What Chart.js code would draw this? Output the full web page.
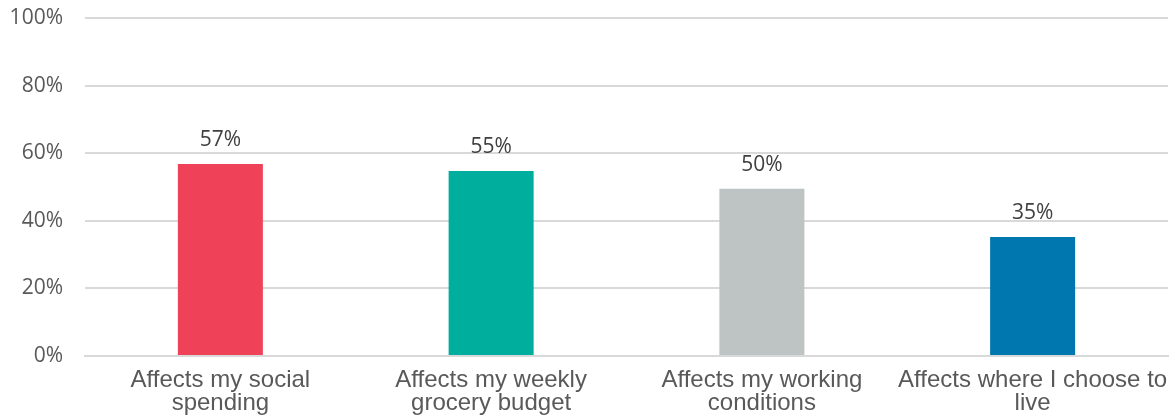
<!DOCTYPE html>
<html>
<head>
<meta charset="utf-8">
<script src="https://cdn.jsdelivr.net/npm/chart.js@4/dist/chart.umd.min.js"></script>
<style>
	html, body { margin: 0; padding: 0; background: #ffffff; }
	#wrap { width: 1175px; height: 416px; position: relative; }
</style>
</head>
<body>
<div id="wrap"><canvas id="chart-bars"></canvas></div>
<script>
const categories = [
	["Affects my social", "spending"],
	["Affects my weekly", "grocery budget"],
	["Affects my working", "conditions"],
	["Affects where I choose to", "live"],
];
const values = [56.8, 54.7, 49.5, 35.2];
const barColors = ["#ef4259", "#00ae9e", "#bec3c3", "#0077af"];
const tickValues = [0, 20, 40, 60, 80, 100];

const gridColor = "#d9d9d9";
const tickColor = "#595959";

// value labels above each bar
const barLabels = {
	id: "barLabels",
	afterDatasetsDraw(chart) {
		const ctx = chart.ctx;
		const meta = chart.getDatasetMeta(0);
		ctx.save();
		ctx.font = "21px 'Open Sans'";
		ctx.fillStyle = "#404040";
		ctx.textAlign = "center";
		ctx.textBaseline = "alphabetic";
		meta.data.forEach(function (bar, i) {
			ctx.fillText(Math.round(values[i]) + "%", bar.x, bar.y - 18);
		});
		ctx.restore();
	},
};

const ctx = document.getElementById("chart-bars").getContext("2d");

var chartBars = new Chart(ctx, {
	type: "bar",
	data: {
		labels: categories,
		datasets: [
			{
				data: values,
				backgroundColor: barColors,
				borderWidth: 0,
				categoryPercentage: 1,
				barPercentage: 0.314,
			},
		],
	},
	options: {
		responsive: true,
		maintainAspectRatio: false,
		animation: false,
		layout: {
			padding: { top: 18, right: 7, left: 0, bottom: 0 },
		},
		plugins: {
			legend: { display: false },
			tooltip: { enabled: false },
		},
		scales: {
			x: {
				afterFit: function (scale) {
					scale.height = 60;
					scale.paddingLeft = 0;
					scale.paddingRight = 0;
				},
				grid: { display: false, drawTicks: false },
				border: { display: true, color: gridColor, width: 2 },
				ticks: {
					color: tickColor,
					padding: 12,
					maxRotation: 0,
					autoSkip: false,
					font: { family: "'Liberation Sans', Arial", size: 24, lineHeight: 0.99 },
				},
			},
			y: {
				min: 0,
				max: 100,
				afterFit: function (scale) {
					scale.width = 85;
					scale.paddingTop = 0;
					scale.paddingBottom = 0;
				},
				afterBuildTicks: function (scale) {
					scale.ticks = tickValues.map(function (v) {
						return { value: v };
					});
				},
				grid: { color: gridColor, lineWidth: 2, drawTicks: false },
				border: { display: false },
				ticks: {
					color: tickColor,
					padding: 22,
					font: { family: "'Open Sans'", size: 21 },
					callback: function (v) {
						return v + "%";
					},
				},
			},
		},
	},
	plugins: [barLabels],
});
</script>
</body>
</html>
